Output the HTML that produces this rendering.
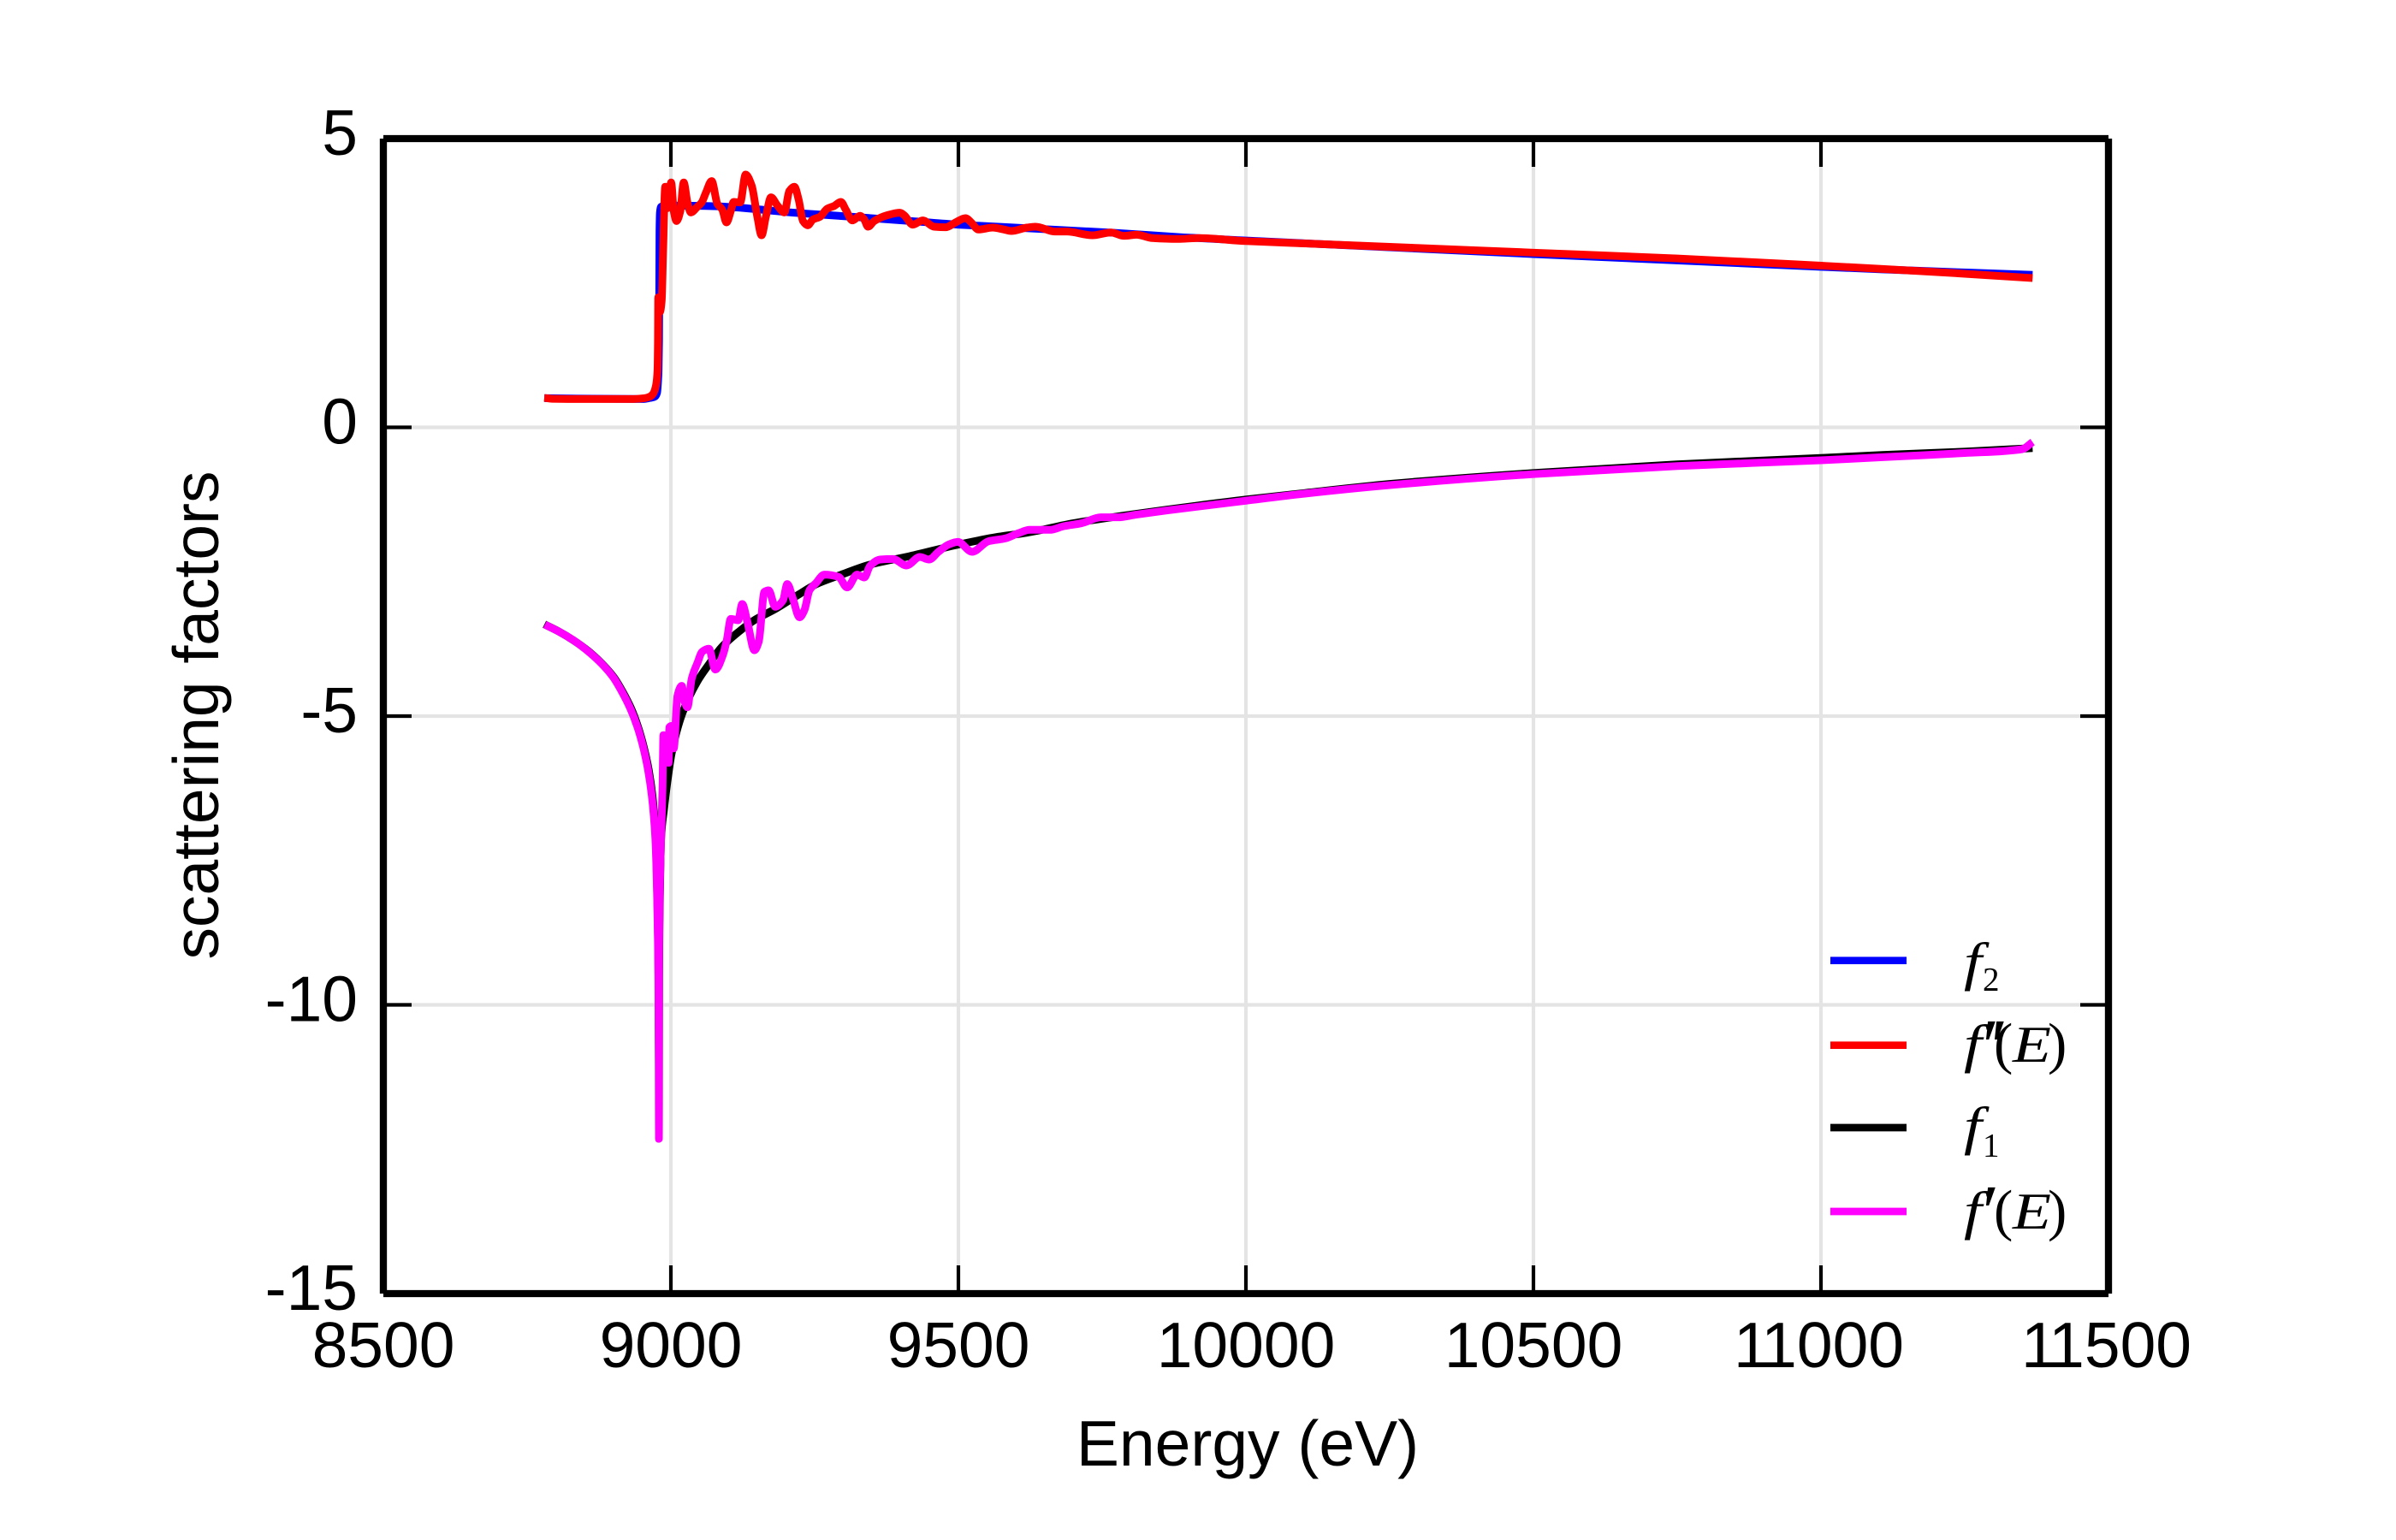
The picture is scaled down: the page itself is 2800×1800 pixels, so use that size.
<!DOCTYPE html>
<html lang="en">
<head>
<meta charset="utf-8">
<title>Scattering factors vs energy</title>
<style>
html,body{margin:0;padding:0;background:#fff;width:2800px;height:1800px;overflow:hidden}
svg{display:block}
.sans{font-family:"Liberation Sans",Arial,sans-serif;font-size:75px;fill:#000}
.math{font-family:"Liberation Serif","Times New Roman",serif;fill:#000}
</style>
</head>
<body>
<svg id="chart" xmlns="http://www.w3.org/2000/svg" width="2800" height="1800" viewBox="0 0 2800 1800">
  <rect x="0" y="0" width="2800" height="1800" fill="#fff"/>
  <g id="grid"></g>
  <g id="series"></g>
  <g id="ticks"></g>
  <g id="frame">
    <line x1="448" y1="162" x2="448" y2="1512" stroke="#000" stroke-width="8.33"/>
    <line x1="2464" y1="162" x2="2464" y2="1512" stroke="#000" stroke-width="8.33"/>
    <line x1="448" y1="162" x2="2464" y2="162" stroke="#000" stroke-width="8.33"/>
    <line x1="448" y1="1512" x2="2464" y2="1512" stroke="#000" stroke-width="8.33"/>
  </g>
  <g id="tick-labels"></g>
  <text class="sans" x="1458" y="1713" text-anchor="middle">Energy (eV)</text>
  <text class="sans" transform="translate(255 836) rotate(-90)" text-anchor="middle">scattering factors</text>

  <g>
    <g>
      <line x1="2139" y1="1122.7" x2="2228" y2="1122.7" stroke="#0000ff" stroke-width="8.7"/>
      <text class="math" x="2295" y="1145" font-size="62" font-style="italic" textLength="21" lengthAdjust="spacingAndGlyphs">f</text>
      <text class="math" x="2317" y="1157.5" font-size="39">2</text>
    </g>
    <g>
      <line x1="2139" y1="1221.7" x2="2228" y2="1221.7" stroke="#ff0000" stroke-width="8.7"/>
      <text class="math" x="2295" y="1241" font-size="62" font-style="italic" textLength="21" lengthAdjust="spacingAndGlyphs">f</text>
      <text class="math" x="2311 2321" y="1253" font-size="90" font-style="italic">′′</text>
      <text class="math" x="2330" y="1242" font-size="67">(</text>
      <text class="math" x="2352" y="1241" font-size="60" font-style="italic" textLength="45" lengthAdjust="spacingAndGlyphs">E</text>
      <text class="math" x="2393" y="1242" font-size="67">)</text>
    </g>
    <g>
      <line x1="2139" y1="1318" x2="2228" y2="1318" stroke="#000000" stroke-width="8.7"/>
      <text class="math" x="2295" y="1337" font-size="62" font-style="italic" textLength="21" lengthAdjust="spacingAndGlyphs">f</text>
      <text class="math" x="2317" y="1351.5" font-size="39">1</text>
    </g>
    <g>
      <line x1="2139" y1="1416" x2="2228" y2="1416" stroke="#ff00ff" stroke-width="8.7"/>
      <text class="math" x="2295" y="1436" font-size="62" font-style="italic" textLength="21" lengthAdjust="spacingAndGlyphs">f</text>
      <text class="math" x="2311" y="1447" font-size="90" font-style="italic">′</text>
      <text class="math" x="2330" y="1437" font-size="67">(</text>
      <text class="math" x="2352" y="1436" font-size="60" font-style="italic" textLength="45" lengthAdjust="spacingAndGlyphs">E</text>
      <text class="math" x="2393" y="1437" font-size="67">)</text>
    </g>
  </g>
</svg>
<script>
const xTicks = [8500, 9000, 9500, 10000, 10500, 11000, 11500];
const yTicks = [5, 0, -5, -10, -15];
const xTickLabels = ['8500', '9000', '9500', '10000', '10500', '11000', '11500'];
const yTickLabels = ['5', '0', '-5', '-10', '-15'];

const energyF2 = [8780,8950,8964,8972,8976,8977.7,8978.6,8979.4,8980.2,8981,8983,8991,9073,9222,9296,9420,9500,9569,9768,9892,10000,10500,11000,11107,11368];
const valuesF2 = [0.505,0.49,0.51,0.53,0.6,0.8,0.98,1.5,3.4,3.72,3.82,3.84,3.83,3.71,3.66,3.57,3.51,3.474,3.37,3.29,3.235,3.0,2.78,2.735,2.64];

const energyFpp = [8779.8,8793,8855,8930,8954,8964,8969.3,8974.2,8976.7,8977.5,8978,8981,8984,8986.6,8990.1,8994,9000.5,9005,9009.9,9016.4,9022.3,9028.8,9034.7,9046.1,9053.6,9061,9070.9,9080.9,9089.3,9096.7,9104.2,9109.1,9120.5,9130,9140.4,9150.3,9157.7,9165.2,9174.1,9185,9197.4,9205.9,9214.8,9222.2,9229.7,9238.1,9247,9259.4,9271.8,9284.2,9295.6,9304.1,9315.5,9328.9,9336.3,9342.8,9353.7,9376,9398.3,9405.8,9420.6,9438,9457.8,9477.7,9495,9512.4,9522.3,9534.7,9559.5,9579.4,9591.8,9619,9633.9,9668.6,9688.5,9733.1,9765.4,9787.7,9810,9837.3,9881.9,9916.6,10000,10100,10300,10500,10750,11000,11107,11250,11368];
const valuesFpp = [0.51,0.495,0.49,0.49,0.505,0.535,0.585,0.73,0.98,1.47,2.25,2.0,2.19,3.08,4.166,3.795,4.24,3.746,3.573,3.746,4.24,3.894,3.721,3.82,3.894,4.067,4.264,3.869,3.77,3.548,3.746,3.904,3.894,4.378,4.19,3.647,3.326,3.647,3.983,3.845,3.721,4.091,4.166,3.943,3.573,3.499,3.598,3.647,3.785,3.835,3.904,3.77,3.583,3.662,3.598,3.474,3.573,3.672,3.716,3.672,3.509,3.583,3.474,3.464,3.548,3.622,3.548,3.425,3.459,3.425,3.4,3.459,3.474,3.39,3.39,3.326,3.375,3.316,3.336,3.277,3.262,3.277,3.225,3.185,3.105,3.025,2.925,2.8,2.743,2.66,2.585];

const energyF1 = [8780,8806,8831,8856,8881,8901,8916,8931,8943,8953,8961.5,8968,8973.5,8976.3,8978.4,8979,8979.2,8979.35,8979.6,8981,8983,8988,8994,9001.5,9020,9046,9066,9088,9118,9145,9182.5,9222,9252,9296.6,9346,9415.7,9500,9569.4,9619,9700,9800,9862,10000,10100,10250,10500,10750,11000,11107,11250,11368];
const valuesF1 = [-3.41,-3.54,-3.69,-3.87,-4.1,-4.33,-4.575,-4.87,-5.19,-5.54,-5.93,-6.38,-7.11,-8.1,-9.5,-11,-12.25,-11,-9.5,-8.1,-7.12,-6.62,-6.13,-5.636,-4.95,-4.4,-4.106,-3.81,-3.54,-3.34,-3.14,-2.896,-2.72,-2.55,-2.378,-2.23,-2.03,-1.894,-1.825,-1.66,-1.51,-1.425,-1.25,-1.14,-0.98,-0.79,-0.64,-0.53,-0.477,-0.42,-0.36];

const energyFp = [8780.8,8805.5,8830.4,8855.2,8880,8899.8,8914.7,8929.6,8942,8951.9,8960.3,8966.8,8973,8976,8978.2,8979,8979.2,8979.35,8979.5,8980.7,8983,8985.5,8987,8990,8996,8997,9001,9005,9011.4,9018.8,9023.8,9028.8,9036.2,9046.1,9054.6,9066,9077.4,9090.8,9097.2,9104.2,9117,9124,9133,9145.3,9152.8,9162.7,9170,9181.5,9195,9202.4,9212.3,9223.7,9232.1,9241,9252,9266.9,9291.7,9306.5,9323.9,9336.3,9346.2,9363.6,9385.9,9409.7,9433,9448.9,9465.3,9482.6,9499,9523.8,9552.1,9581.8,9604.2,9624,9658.7,9683.5,9713.3,9748,9777.7,9807.5,9862,10000,10100,10250,10500,10750,11000,11107,11250,11350,11368];
const valuesFp = [-3.415,-3.538,-3.686,-3.87,-4.096,-4.328,-4.575,-4.871,-5.193,-5.538,-5.933,-6.378,-7.12,-8.106,-9.5,-11,-12.32,-11,-9.5,-8.106,-7.12,-6.23,-5.33,-5.35,-5.81,-5.2,-5.17,-5.56,-4.65,-4.476,-4.748,-4.847,-4.353,-4.081,-3.884,-3.834,-4.195,-3.933,-3.686,-3.316,-3.34,-3.059,-3.365,-3.859,-3.711,-2.847,-2.822,-3.108,-2.995,-2.713,-2.97,-3.29,-3.168,-2.822,-2.7,-2.55,-2.59,-2.773,-2.55,-2.6,-2.402,-2.289,-2.279,-2.392,-2.244,-2.289,-2.155,-2.032,-1.983,-2.155,-1.973,-1.923,-1.834,-1.775,-1.775,-1.711,-1.662,-1.558,-1.558,-1.514,-1.44,-1.27,-1.15,-1.0,-0.81,-0.67,-0.57,-0.516,-0.445,-0.378,-0.255];

const SVG_NS = 'http://www.w3.org/2000/svg';
function xScale(e) { return 448 + (e - 8500) * (2464 - 448) / (11500 - 8500); }
function yScale(v) { return 162 + (5 - v) * (1512 - 162) / 20; }

function svgEl(tag, attrs, parent) {
  const el = document.createElementNS(SVG_NS, tag);
  for (const k in attrs) el.setAttribute(k, attrs[k]);
  parent.appendChild(el);
  return el;
}

/* monotone cubic path so that peaks stay smooth without overshoot */
function seriesPath(xs, ys) {
  const n = xs.length;
  const px = xs.map(xScale), py = ys.map(yScale);
  const slope = [];
  for (let i = 0; i < n - 1; i++) slope.push((py[i + 1] - py[i]) / Math.max(px[i + 1] - px[i], 1e-6));
  const tan = [];
  for (let i = 0; i < n; i++) {
    if (i === 0) tan.push(slope[0]);
    else if (i === n - 1) tan.push(slope[n - 2]);
    else if (slope[i - 1] * slope[i] <= 0) tan.push(0);
    else {
      const h0 = px[i] - px[i - 1], h1 = px[i + 1] - px[i];
      const w0 = 2 * h1 + h0, w1 = h1 + 2 * h0;
      tan.push((w0 + w1) / (w0 / slope[i - 1] + w1 / slope[i]));
    }
  }
  let d = 'M' + px[0].toFixed(2) + ' ' + py[0].toFixed(2);
  for (let i = 0; i < n - 1; i++) {
    const h = (px[i + 1] - px[i]) / 3;
    d += 'C' + (px[i] + h).toFixed(2) + ' ' + (py[i] + tan[i] * h).toFixed(2) + ' ' +
         (px[i + 1] - h).toFixed(2) + ' ' + (py[i + 1] - tan[i + 1] * h).toFixed(2) + ' ' +
         px[i + 1].toFixed(2) + ' ' + py[i + 1].toFixed(2);
  }
  return d;
}

const gridG = document.getElementById('grid');
const ticksG = document.getElementById('ticks');
const labelsG = document.getElementById('tick-labels');
const seriesG = document.getElementById('series');

xTicks.forEach(function (t, i) {
  const x = xScale(t);
  if (i > 0 && i < xTicks.length - 1) {
    const g = svgEl('line', {x1: x, y1: 162, x2: x, y2: 1512, stroke: '#e4e4e4', 'stroke-width': 4.17}, gridG);
    
    
  }
  const a = svgEl('line', {x1: x, y1: 1512, x2: x, y2: 1479, stroke: '#000', 'stroke-width': 4.17}, ticksG);
  
  
  const b = svgEl('line', {x1: x, y1: 162, x2: x, y2: 195, stroke: '#000', 'stroke-width': 4.17}, ticksG);
  
  
  const l = svgEl('text', {x: x, y: 1598, 'text-anchor': 'middle', class: 'sans'}, labelsG);
  
  
  if (xTickLabels[i].indexOf('11') === 0) l.setAttribute('dx', '-2.5 -4');
  l.textContent = xTickLabels[i];
});

yTicks.forEach(function (t, i) {
  const y = yScale(t);
  if (i > 0 && i < yTicks.length - 1) {
    const g = svgEl('line', {x1: 448, y1: y, x2: 2464, y2: y, stroke: '#e4e4e4', 'stroke-width': 4.17}, gridG);
    
    
  }
  const a = svgEl('line', {x1: 448, y1: y, x2: 481, y2: y, stroke: '#000', 'stroke-width': 4.17}, ticksG);
  
  
  const b = svgEl('line', {x1: 2464, y1: y, x2: 2431, y2: y, stroke: '#000', 'stroke-width': 4.17}, ticksG);
  
  
  const l = svgEl('text', {x: 418, y: y + 19, 'text-anchor': 'end', class: 'sans'}, labelsG);
  
  
  l.textContent = yTickLabels[i];
});

function drawSeries(xs, ys, color) {
  return svgEl('path', {d: seriesPath(xs, ys), fill: 'none', stroke: color, 'stroke-width': 9, 'stroke-linejoin': 'round', 'stroke-linecap': 'butt'}, seriesG);
}

const lineF2 = drawSeries(energyF2, valuesF2, '#0000ff');


const lineFpp = drawSeries(energyFpp, valuesFpp, '#ff0000');


const lineF1 = drawSeries(energyF1, valuesF1, '#000000');


const lineFp = drawSeries(energyFp, valuesFp, '#ff00ff');


</script>
</body>
</html>
